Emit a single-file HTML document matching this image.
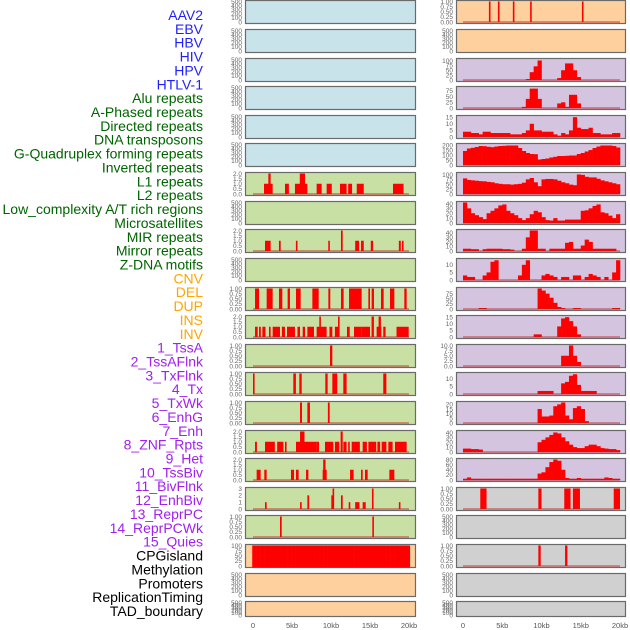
<!DOCTYPE html>
<html><head><meta charset="utf-8">
<style>
html,body{margin:0;padding:0;background:#fff;}
svg{display:block;font-family:"Liberation Sans",sans-serif;}
</style></head>
<body>
<svg id="chart" width="630" height="630" viewBox="0 0 630 630" xmlns="http://www.w3.org/2000/svg"></svg>
<script>
// ---- track labels ----
const labelNames = ["AAV2","EBV","HBV","HIV","HPV","HTLV-1","Alu repeats","A-Phased repeats","Directed repeats","DNA transposons","G-Quadruplex forming repeats","Inverted repeats","L1 repeats","L2 repeats","Low_complexity A/T rich regions","Microsatellites","MIR repeats","Mirror repeats","Z-DNA motifs","CNV","DEL","DUP","INS","INV","1_TssA","2_TssAFlnk","3_TxFlnk","4_Tx","5_TxWk","6_EnhG","7_Enh","8_ZNF_Rpts","9_Het","10_TssBiv","11_BivFlnk","12_EnhBiv","13_ReprPC","14_ReprPCWk","15_Quies","CPGisland","Methylation","Promoters","ReplicationTiming","TAD_boundary"];
const labelGroups = ["v","v","v","v","v","v","r","r","r","r","r","r","r","r","r","r","r","r","r","s","s","s","s","s","c","c","c","c","c","c","c","c","c","c","c","c","c","c","c","o","o","o","o","o"];

// ---- x axis ----
const xTickValues = [0,5,10,15,20];
const xTickLabels = ["0","5kb","10kb","15kb","20kb"];

// ---- y tick sets ----
const ticksEmpty = [0,100,200,300,400,500];
const ticks01 = [0,0.25,0.5,0.75,1];
const ticks02 = [0,0.5,1,1.5,2];
const ticks03 = [0,1,2,3];
const ticks100 = [0,25,50,75,100];
const ticks75 = [0,25,50,75];
const ticks15 = [0,5,10,15];
const ticks200 = [0,50,100,150,200];
const ticks40 = [0,10,20,30,40];
const ticks10 = [0,5,10];
const ticks10b = [0,2.5,5,7.5,10];
const ticks20 = [0,5,10,15,20];
const ticks80 = [0,20,40,60,80];
const ticks60 = [0,20,40,60,80];

// ---- right column binned profiles (40 bins of 0.5kb) ----
const rHIV = [0,0,0,0,0,0,0,0,0,0, 0,0,0,0,0,0,5,40,70,100, 0,0,0,0,10,50,85,85,50,15, 0,0,0,0,0,0,0,0,0,0];
const rHPV = [0,0,0,0,0,0,0,0,0,0, 0,0,0,0,0,5,40,85,85,40, 0,0,0,0,20,25,5,58,58,20, 0,0,0,0,0,0,0,0,0,0];
const rDirected = [4,4,3,3,2,4,4,3,3,3, 3,3,2,2,2,3,5,10,5,5, 4,4,4,2,1,3,2,5,15,7, 6,6,7,3,3,2,2,2,3,3];
const rGQuad = [140,165,172,180,190,188,182,178,185,190, 192,195,195,195,170,140,120,110,108,55, 60,65,75,82,90,90,92,95,95,110, 120,135,150,170,185,195,195,195,190,175];
const rL1 = [80,72,70,68,66,65,62,60,55,52, 50,50,48,50,52,58,75,82,60,40, 75,77,77,75,68,60,55,48,45,100, 98,88,85,85,78,70,65,60,55,50];
const rLowComp = [42,30,20,16,12,8,20,25,30,36, 38,25,20,16,10,6,10,18,25,22, 12,6,5,10,5,5,7,7,7,7, 25,26,30,35,38,22,20,15,10,18];
const rMIR = [5,5,4,4,0,4,5,5,5,5, 4,4,3,0,0,5,30,45,45,5, 5,0,5,5,5,5,18,20,5,5, 12,25,20,5,5,5,5,5,5,0];
const rZDNA = [3,2,2,0,0,3,5,12,13,0, 0,0,0,0,3,10,13,0,0,0, 3,4,3,2,0,2,2,0,3,3, 0,2,4,3,2,0,2,0,5,13];
const rDEL = [0,0,0,0,5,5,0,0,0,0, 0,0,0,0,0,0,0,0,0,100, 90,75,55,30,10,5,0,0,5,5, 0,0,0,0,0,0,0,0,5,5];
const rINS = [0,0,0,0,0,0,0,0,0,0, 0,0,0,0,0,0,0,0,2,2, 0,0,0,0,8,14,15,12,8,2, 0,0,0,0,0,0,0,0,0,0];
const rTssA = [0,0,0,0,0,0,0,0,0,0, 0,0,0,0,0,0,0,0,0,0, 0,0,0,0,0,5,5,10,5,2, 0,0,0,0,0,0,0,0,0,0];
const rTssAFlnk = [0,0,0,0,0,0,0,0,0,0, 0,0,0,0,0,0,0,0,0,2, 2,2,2,0,0,7,8,12,13,6, 2,2,2,2,0,0,0,0,0,0];
const rTxWk = [0,0,0,0,0,0,0,0,0,0, 0,0,0,0,0,0,0,0,0,15, 7,7,8,18,20,22,8,4,16,18, 15,2,0,0,0,0,0,0,0,0];
const rEnhG = [7,7,6,6,5,0,0,0,0,0, 0,0,0,0,0,0,0,0,0,20, 25,30,35,40,38,30,22,15,10,8, 8,12,15,15,12,8,7,6,6,4];
const rEnh = [5,10,5,5,5,5,5,5,5,5, 5,5,5,5,5,5,5,5,5,25, 30,50,70,80,75,40,8,5,5,8, 5,5,5,5,5,5,10,8,5,5];

// ---- interval tracks: [start kb, end kb, height] ----
const rAAV2Bars = [[3.3,3.45,1],[4.45,4.6,1],[6.35,6.5,1],[8.55,8.7,1],[15.15,15.3,1]];
const rDUPBars = [[2.2,3.0,1],[9.6,10.0,1],[12.9,13.7,1],[14.0,14.9,1],[19.2,20.0,1]];
const rMethBars = [[9.6,9.9,1],[13.0,13.3,1]];
const lL1Bars = [[1.41,2.52,1],[1.97,2.26,2],[4.1,4.6,1],[5.38,6.97,1],[6.0,6.67,2],[8.16,8.8,1],[9.44,10.1,1],[11.15,12.0,1],[12.2,12.7,1],[13.3,14.2,1],[17.95,19.3,1]];
const lMirrorBars = [[1.54,2.26,1],[3.33,3.55,1],[5.5,5.7,1],[9.65,9.83,1],[11.28,11.5,2],[13.1,13.6,1],[13.85,14.2,1],[15.1,15.4,1],[18.7,18.95,1],[19.1,19.3,1]];
const lDELBars = [[0.26,0.77,1],[1.75,2.52,1],[3.33,3.76,1],[4.44,4.74,1],[5.51,6.11,1],[7.61,8.42,1],[9.66,9.91,1],[11.28,11.62,1],[12.31,13.93,1],[14.79,15.0,1],[15.21,15.51,1],[16.41,16.75,1],[17.56,18.12,1],[19.4,19.7,1]];
const lDUPBars = [[0.26,0.6,1],[0.77,1.0,1],[1.2,1.6,1],[2.05,2.26,1],[2.52,3.46,1],[3.7,4.1,1],[4.36,5.38,1],[5.7,6.03,1],[6.37,6.67,1],[6.97,7.82,1],[8.16,9.44,1],[8.5,8.7,2],[9.8,10.17,1],[10.5,10.98,1],[10.9,11.1,2],[12.05,12.4,1],[12.95,13.93,1],[13.93,15.0,1],[15.2,15.5,2],[15.85,16.45,1],[16.1,16.4,2],[16.7,17.0,1],[18.4,19.96,1]];
const lTssABars = [[9.87,10.17,1]];
const lTssAFlnkBars = [[0.0,0.1,1],[5.17,5.5,1],[5.94,6.24,1],[9.27,9.57,1],[10.17,10.8,1],[11.58,12.0,1],[16.7,17.1,1]];
const lTxBars = [[6.03,6.28,1],[6.97,7.3,1],[9.6,9.83,1]];
const lTxWkBars = [[0.26,0.5,1],[1.54,2.8,1],[3.1,3.9,1],[4.1,4.3,1],[5.51,8.16,1],[6.03,6.6,2],[8.16,8.46,1],[9.23,10.3,1],[10.5,11.06,1],[11.23,11.5,2],[11.58,12.0,1],[12.2,12.4,1],[12.65,13.7,1],[14.06,14.6,1],[14.79,15.8,1],[15.95,16.3,1],[16.5,17.1,1],[17.35,17.9,1],[18.2,19.7,1]];
const lEnhBars = [[0.47,0.98,1],[1.45,1.75,1],[4.87,5.26,1],[5.51,5.85,1],[6.8,7.1,1],[8.93,9.45,1],[9.0,9.3,2],[12.44,12.9,1],[13.85,14.06,1],[14.36,14.7,1],[17.48,18.12,1]];
const lZNFBars = [[1.54,1.75,1],[6.03,6.24,1],[6.97,7.2,2],[10.04,10.3,2],[10.2,10.4,3],[11.28,11.5,2],[12.27,12.45,1],[13.1,13.65,1],[14.06,14.45,1],[15.25,15.45,3],[18.7,18.9,1]];
const lEnhBivBars = [[3.46,3.68,1],[15.3,15.5,1]];
const lCpG = [100,100,100,100,100,100,100,100,100,100, 100,100,100,100,100,100,100,100,100,100, 100,100,100,100,100,100,100,100,100,100, 100,100,100,100,100,100,100,100,100,100];

const BLUE="#c8e3ea", GREEN="#c8e0a4", PEACH="#fdd09e", LAV="#d5c4e0", GRAY="#d0d0d0";

// panel rows: [left spec, right spec]
const rows = [
 [{bg:BLUE,empty:1},{bg:PEACH,ticks:ticks01,max:1,bars:rAAV2Bars,dec:2}],
 [{bg:BLUE,empty:1},{bg:PEACH,empty:1}],
 [{bg:BLUE,empty:1},{bg:LAV,ticks:ticks100,max:105,bins:rHIV}],
 [{bg:BLUE,empty:1},{bg:LAV,ticks:ticks75,max:90,bins:rHPV}],
 [{bg:BLUE,empty:1},{bg:LAV,ticks:ticks15,max:15.5,bins:rDirected}],
 [{bg:BLUE,empty:1},{bg:LAV,ticks:ticks200,max:205,bins:rGQuad}],
 [{bg:GREEN,ticks:ticks02,max:2,bars:lL1Bars,dec:1},{bg:LAV,ticks:ticks100,max:105,bins:rL1}],
 [{bg:GREEN,empty:1},{bg:LAV,ticks:ticks40,max:42,bins:rLowComp}],
 [{bg:GREEN,ticks:ticks02,max:2,bars:lMirrorBars,dec:1},{bg:LAV,ticks:ticks40,max:45,bins:rMIR}],
 [{bg:GREEN,empty:1},{bg:LAV,ticks:ticks10,max:13.5,bins:rZDNA}],
 [{bg:GREEN,ticks:ticks01,max:1,bars:lDELBars,dec:2},{bg:LAV,ticks:ticks75,max:100,bins:rDEL}],
 [{bg:GREEN,ticks:ticks02,max:2,bars:lDUPBars,dec:1},{bg:LAV,ticks:ticks15,max:15.5,bins:rINS}],
 [{bg:GREEN,ticks:ticks01,max:1,bars:lTssABars,dec:2},{bg:LAV,ticks:ticks10b,max:10,bins:rTssA,dec:1}],
 [{bg:GREEN,ticks:ticks01,max:1,bars:lTssAFlnkBars,dec:2},{bg:LAV,ticks:ticks10,max:13.5,bins:rTssAFlnk}],
 [{bg:GREEN,ticks:ticks01,max:1,bars:lTxBars,dec:2},{bg:LAV,ticks:ticks20,max:22,bins:rTxWk}],
 [{bg:GREEN,ticks:ticks02,max:2,bars:lTxWkBars,dec:1},{bg:LAV,ticks:ticks40,max:42,bins:rEnhG}],
 [{bg:GREEN,ticks:ticks02,max:2,bars:lEnhBars,dec:1},{bg:LAV,ticks:ticks80,max:80,bins:rEnh}],
 [{bg:GREEN,ticks:ticks03,max:3,bars:lZNFBars},{bg:GRAY,ticks:ticks01,max:1,bars:rDUPBars,dec:2}],
 [{bg:GREEN,ticks:ticks01,max:1,bars:lEnhBivBars,dec:2},{bg:GRAY,empty:1}],
 [{bg:PEACH,ticks:ticks100,max:100,bins:lCpG,full:1},{bg:GRAY,ticks:ticks01,max:1,bars:rMethBars,dec:2}],
 [{bg:PEACH,empty:1},{bg:GRAY,empty:1}],
 [{bg:PEACH,empty:1},{bg:GRAY,empty:1}]
];

const svg = document.getElementById('chart');
const NS = "http://www.w3.org/2000/svg";
function mk(tag, attrs, parent){
  const e = document.createElementNS(NS, tag);
  for (const k in attrs) e.setAttribute(k, attrs[k]);
  (parent||svg).appendChild(e);
  return e;
}
const colX = [[245,416,253,409],[456,626,463,620]]; // panel left,right, kb0 x, kb20 x
function xScale(col, kb){ const c=colX[col]; return c[2] + (c[3]-c[2])*kb/20; }

// labels
const groupColor = {v:"#1f1fff", r:"#006400", s:"#ffa500", c:"#a020f0", o:"#000000"};
labelNames.forEach((name,i)=>{
  const t = mk('text',{x:203,y:20+i*13.86,'text-anchor':'end','font-size':'14',fill:groupColor[labelGroups[i]]});
  t.textContent = name;
  
  
});

rows.forEach((row, ri)=>{
  const top = Math.round(0.3 + 28.62*ri);
  const h = ri === rows.length-1 ? 16 : 24;
  row.forEach((spec, col)=>{
    const c = colX[col];
    const g = mk('g',{});
    
    
    const bg = mk('rect',{x:c[0]+0.5,y:top+0.5,width:c[1]-c[0]-1,height:h-1,fill:spec.bg,stroke:'#6a6a6a','stroke-width':1.2},g);
    
    
    const y0 = top + h - 2, y1 = top + 1.5;
    const ticks = spec.empty ? ticksEmpty : spec.ticks;
    const max = spec.empty ? 500 : spec.max;
    const yScale = v => y0 - (y1 > 0 ? (y0-y1)*v/max : (y0-y1)*v/max);
    // y ticks
    ticks.forEach(tv=>{
      const tx = mk('text',{x:c[0]-3,y:yScale(Math.min(tv,max))+2.3,'text-anchor':'end','font-size':'6.5',fill:'#666'},g);
      tx.textContent = spec.dec ? tv.toFixed(spec.dec) : (Number.isInteger(tv)? String(tv) : tv.toFixed(1));
      
      
    });
    if (spec.empty) return;
    // data
    if (spec.bins){
      const n = spec.bins.length;
      const x0kb = spec.full ? -0.1 : 0, x1kb = spec.full ? 20.1 : 20;
      spec.bins.forEach((v,i)=>{
        if (v<=0) return;
        const xa = xScale(col, x0kb + (x1kb-x0kb)*i/n), xb = xScale(col, x0kb + (x1kb-x0kb)*(i+1)/n);
        const yy = Math.max(yScale(v), top+1);
        const r = mk('rect',{x:xa,y:yy,width:xb-xa+0.3,height:y0-yy+ (spec.full?1.5:0),fill:'#ff0000'},g);
        
        
      });
    }
    if (spec.bars){
      spec.bars.forEach(b=>{
        const xa = xScale(col,b[0]), xb = xScale(col,b[1]);
        const yy = Math.max(yScale(b[2]), top+1);
        const r = mk('rect',{x:xa,y:yy,width:Math.max(xb-xa,1.6),height:y0-yy,fill:'#ff0000'},g);
        
        
      });
    }
    if (!spec.full){
      const bl = mk('line',{x1:xScale(col,0),x2:xScale(col,20),y1:y0,y2:y0,stroke:'rgba(190,30,30,0.55)','stroke-width':1.5},g);
      
      
    }
  });
});

// x axes
[0,1].forEach(col=>{
  xTickValues.forEach((v,i)=>{
    const t = mk('text',{x:xScale(col,v),y:628,'text-anchor':'middle','font-size':'7.5',fill:'#555'});
    t.textContent = xTickLabels[i];
    
    
  });
});
</script>
</body></html>
